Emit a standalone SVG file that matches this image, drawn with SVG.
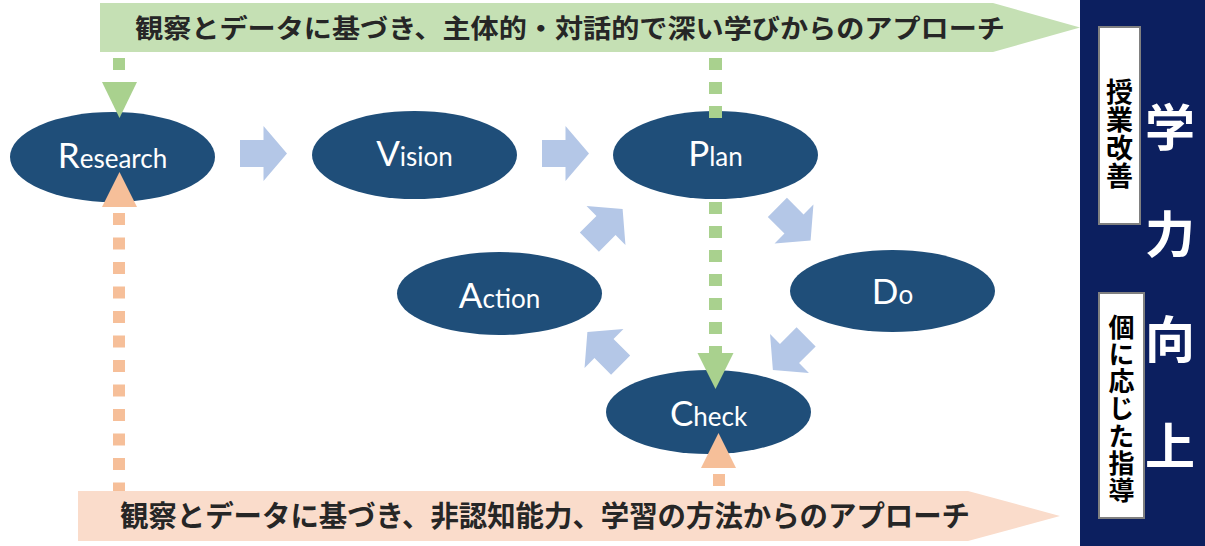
<svg xmlns="http://www.w3.org/2000/svg" width="1205" height="546" viewBox="0 0 1205 546">
  <defs>
    <style>
      .node { fill: #1f4e79; }
      .nlabel { font-family: Lato, "Open Sans", sans-serif; fill: #ffffff; text-anchor: middle; }
      .big { font-size: 35px; }
      .small { font-size: 26px; }
      .flow { fill: #b4c7e7; }
      .banner-text { font-family: "Noto Sans CJK JP", "Noto Sans", sans-serif; font-weight: bold; fill: #262626; }
      .side-box { fill: #ffffff; stroke: #808080; stroke-width: 2; }
      .side-text { font-family: "Noto Sans CJK JP", sans-serif; font-weight: bold; fill: #000000; writing-mode: vertical-rl; text-orientation: upright; }
      .goal-text { font-family: "Noto Sans CJK JP", sans-serif; font-weight: bold; font-size: 50px; fill: #ffffff; text-anchor: middle; }
      .green { fill: #a9d18e; }
      .orange { fill: #f6bf99; }
    </style>
    <polygon id="blockArrow" points="-23.5,-13.5 0,-13.5 0,-27.5 23.5,0 0,27.5 0,13.5 -23.5,13.5"/>
  </defs>

  <rect width="1205" height="546" fill="#ffffff"/>

  <g id="banner-top">
    <polygon points="100,3 993,3 1080,27.5 993,52 100,52" fill="#c5e0b4"/>
    <text class="banner-text" x="135" y="38" font-size="26" textLength="870" lengthAdjust="spacingAndGlyphs">観察とデータに基づき、主体的・対話的で深い学びからのアプローチ</text>
  </g>

  <g id="banner-bottom">
    <polygon points="78,491 968,491 1060,516 968,541 78,541" fill="#fadccb"/>
    <text class="banner-text" x="120" y="527" font-size="29" textLength="850" lengthAdjust="spacingAndGlyphs">観察とデータに基づき、非認知能力、学習の方法からのアプローチ</text>
  </g>

  <g id="goal-panel">
    <rect x="1080" y="0" width="125" height="546" fill="#0c1f5f"/>
    <text class="goal-text" x="1170" y="146">学</text>
    <text class="goal-text" x="1170" y="253">力</text>
    <text class="goal-text" x="1170" y="358">向</text>
    <text class="goal-text" x="1170" y="465">上</text>
  </g>

  <g id="box-jugyo">
    <rect class="side-box" x="1099" y="27" width="41" height="197"/>
    <text class="side-text" x="1119.5" y="78.5" font-size="27" letter-spacing="1">授業改善</text>
  </g>

  <g id="box-ko">
    <rect class="side-box" x="1099" y="293" width="45" height="225"/>
    <text class="side-text" x="1121.5" y="314" font-size="26" letter-spacing="1.2">個に応じた指導</text>
  </g>

  <g id="node-research">
    <ellipse class="node" cx="112.5" cy="157" rx="102.5" ry="45"/>
    <text class="nlabel" x="112.5" y="168"><tspan class="big">R</tspan><tspan class="small">esearch</tspan></text>
  </g>
  <g id="node-vision">
    <ellipse class="node" cx="414.5" cy="155" rx="102.5" ry="44"/>
    <text class="nlabel" x="414.5" y="166"><tspan class="big">V</tspan><tspan class="small">ision</tspan></text>
  </g>
  <g id="node-plan">
    <ellipse class="node" cx="715.5" cy="155" rx="102.5" ry="44"/>
    <text class="nlabel" x="715.5" y="166"><tspan class="big">P</tspan><tspan class="small">lan</tspan></text>
  </g>
  <g id="node-do">
    <ellipse class="node" cx="892.5" cy="291" rx="102.5" ry="41"/>
    <text class="nlabel" x="892.5" y="304"><tspan class="big">D</tspan><tspan class="small">o</tspan></text>
  </g>
  <g id="node-action">
    <ellipse class="node" cx="499.5" cy="293.5" rx="102.5" ry="41.5"/>
    <text class="nlabel" x="499.5" y="308"><tspan class="big">A</tspan><tspan class="small">ction</tspan></text>
  </g>
  <g id="node-check">
    <ellipse class="node" cx="708.5" cy="412" rx="102.5" ry="42"/>
    <text class="nlabel" x="708.5" y="426"><tspan class="big">C</tspan><tspan class="small">heck</tspan></text>
  </g>

  <g id="connectors">
    <use href="#blockArrow" class="flow" transform="translate(263.5,153.5)"/>
    <use href="#blockArrow" class="flow" transform="translate(565.5,153.5)"/>
    <use href="#blockArrow" class="flow" transform="translate(794,224) rotate(45)"/>
    <use href="#blockArrow" class="flow" transform="translate(789.5,353.5) rotate(135)"/>
    <use href="#blockArrow" class="flow" transform="translate(604,348.5) rotate(225)"/>
    <use href="#blockArrow" class="flow" transform="translate(606,225.5) rotate(-45)"/>

    <rect class="green" x="113" y="58" width="12" height="12"/>
    <polygon class="green" points="102,82 137,82 119.5,118"/>
    <path d="M715.5 58 V118 M715.5 202 V358" stroke="#a9d18e" stroke-width="13" stroke-dasharray="12 12" fill="none"/>
    <polygon class="green" points="697.5,353 733.5,353 715.5,389"/>

    <polygon class="orange" points="102,207 137,207 119.5,172"/>
    <path d="M119 213 V491" stroke="#f6bf99" stroke-width="12" stroke-dasharray="12 12.5" fill="none"/>
    <polygon class="orange" points="701,468 736,468 718.5,433"/>
    <rect class="orange" x="713" y="474" width="12" height="12"/>
  </g>
</svg>
